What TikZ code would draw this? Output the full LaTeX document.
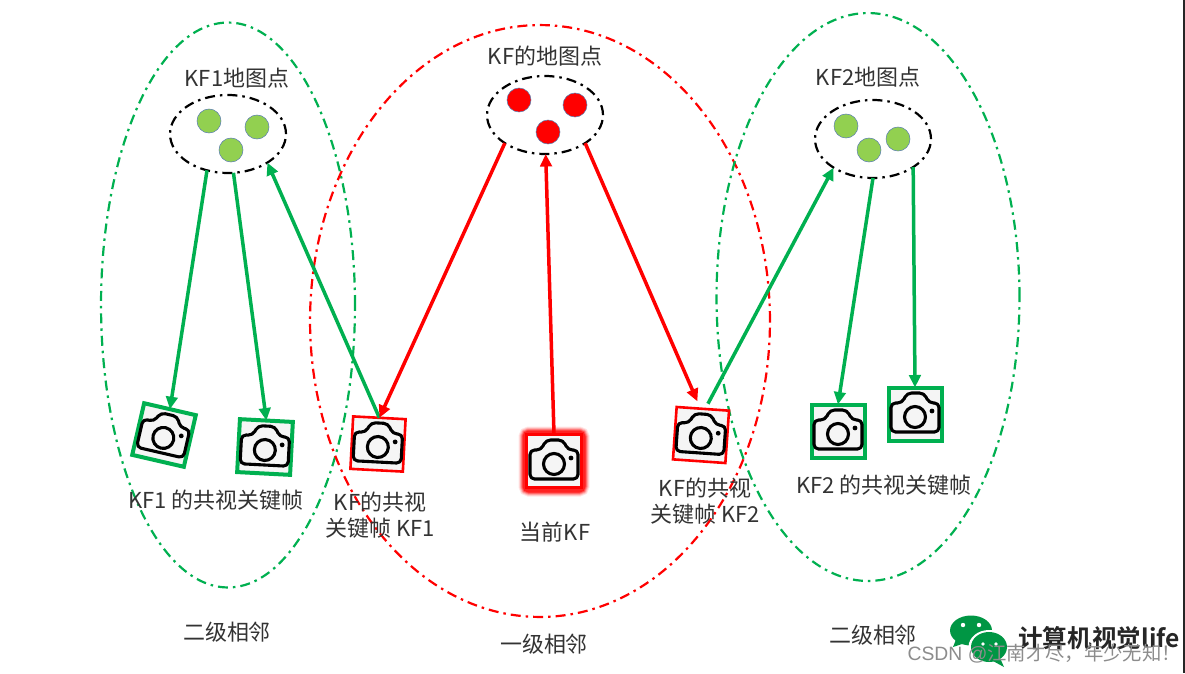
\documentclass[tikz,border=0pt]{standalone}
\usepackage{fontspec}
\setmainfont{Noto Sans CJK SC}[BoldFont={Noto Sans CJK SC Bold}]
\setsansfont{Liberation Sans}
\usetikzlibrary{shapes.geometric,arrows.meta}
\definecolor{kgreen}{HTML}{00B050}
\definecolor{kdot}{HTML}{92D050}
\definecolor{kedge}{HTML}{5B7FB0}
\definecolor{ktext}{HTML}{333333}
\definecolor{kgray}{HTML}{F5F5F5}
\tikzset{
  ddash/.style={line width=0.044cm,dash pattern=on 0.2cm off 0.1cm on 0.05cm off 0.1cm},
  bigring/.style={ellipse,draw,ddash,inner sep=0pt,outer sep=0pt},
  smallring/.style={ellipse,draw=black,ddash,inner sep=0pt,outer sep=0pt,minimum width=2.32cm,minimum height=1.56cm},
  gdot/.style={circle,draw=kedge,line width=0.3pt,fill=kdot,minimum size=0.48cm,inner sep=0pt},
  rdot/.style={circle,draw=kedge,line width=0.3pt,fill=red,minimum size=0.48cm,inner sep=0pt},
  cambox/.style={rectangle,fill=kgray,inner sep=0pt,outer sep=0pt},
  gbox/.style={cambox,draw=kgreen,line width=0.08cm,minimum size=1.06cm},
  rbox/.style={cambox,draw=red,line width=0.052cm,minimum size=1.05cm},
  lab/.style={text=ktext,font=\fontsize{12.5pt}{15pt}\selectfont,align=center,inner sep=0pt},
  conn/.style={line width=0.07cm,-{Triangle[length=0.25cm,width=0.23cm]}},
  gconn/.style={conn,draw=kgreen,color=kgreen},
  rconn/.style={conn,draw=red,color=red},
}
\newcommand{\camicon}[2]{%
  \begin{scope}[shift={(#1)},rotate=#2]
    \draw[line width=0.062cm,line join=round,rounded corners=0.09cm]
      (-24,-11) -- (-13,-11) -- (-8,-21) -- (9,-21) -- (14,-11) -- (24,-11)
      -- (24,18) -- (-24,18) -- cycle;
    \draw[line width=0.062cm] (0,3) circle (10.5);
    \fill (17,-3) circle (2.4);
  \end{scope}}
\begin{document}
\begin{tikzpicture}[x=0.02cm,y=-0.02cm]
\useasboundingbox (0,0) rectangle (1185,673);
\fill[white] (0,0) rectangle (1185,673);
\fill[black!85] (1183,0) rectangle (1185,673);
% large neighbourhood rings
\node[bigring,draw=kgreen,minimum width=5.08cm,minimum height=11.3cm] (ringL) at (228,305) {};
\node[bigring,draw=red,minimum width=9.2cm,minimum height=11.84cm] (ringM) at (540,321) {};
\node[bigring,draw=kgreen,minimum width=6.06cm,minimum height=11.36cm] (ringR) at (868,297) {};
% map point groups
\node[smallring] (e1) at (228,134) {};
\node[smallring] (e2) at (545,115) {};
\node[smallring] (e3) at (873,139) {};
\node[gdot] (g1) at (209,121) {};
\node[gdot] (g2) at (257,127) {};
\node[gdot] (g3) at (231,150) {};
\node[rdot] (r1) at (519,100) {};
\node[rdot] (r2) at (575,105) {};
\node[rdot] (r3) at (548,132) {};
\node[gdot] (g4) at (846,126) {};
\node[gdot] (g5) at (869,150) {};
\node[gdot] (g6) at (898,139) {};
% current KF glow
\foreach \w/\o in {0.30/0.10,0.26/0.16,0.22/0.25,0.18/0.4,0.14/0.6}{
  \draw[red,opacity=\o,line width=\w cm,rounded corners=0.06cm] (526,434) rectangle (582,489);
}
% cameras
\node[gbox,rotate=-13] (c1) at (164,435) {};
\node[gbox,rotate=-3] (c2) at (265,447) {};
\node[rbox,rotate=-3] (c3) at (378,444) {};
\node[cambox,draw=red,line width=0.06cm,minimum width=1.09cm,minimum height=1.07cm] (cur) at (554,461) {};
\node[rbox,rotate=-4] (c4) at (701,435) {};
\node[gbox] (c5) at (838,431) {};
\node[gbox] (c6) at (915,414) {};
\camicon{c1.center}{-13}
\camicon{c2.center}{-3}
\camicon{c3.center}{-3}
\camicon{cur.center}{0}
\camicon{c4.center}{-4}
\camicon{c5.center}{0}
\camicon{c6.center}{0}
% connectors
\draw[gconn] (e1.240) -- (c1.north);
\draw[gconn] (e1.278) -- (c2.north);
\draw[gconn] (c3.north) -- (e1.-36);
\draw[rconn] (e2.215) -- (c3.north);
\draw[rconn] (cur.north) -- (e2.271);
\draw[rconn,shorten >=0.16cm] (e2.-35) -- (c4.95);
\draw[gconn,shorten <=0.12cm] (c4.85) -- (e3.216);
\draw[gconn] (e3.270) -- (c5.north);
\draw[gconn] (e3.-35) -- (c6.north);
% labels
\node[lab] (t1) at (237,78) {KF1地图点};
\node[lab] (t2) at (545,56) {KF的地图点};
\node[lab] (t3) at (868,77) {KF2地图点};
\node[lab] (t4) at (216,500) {KF1 的共视关键帧};
\node[lab] (t5) at (380,515) {KF的共视\\关键帧 KF1};
\node[lab] (t6) at (555,532) {当前KF};
\node[lab] (t7) at (705,501) {KF的共视\\关键帧 KF2};
\node[lab] (t8) at (884,485) {KF2 的共视关键帧};
\node[lab] (t9) at (227,632) {二级相邻};
\node[lab] (t10) at (544,644) {一级相邻};
\node[lab] (t11) at (873,635) {二级相邻};
% logo
\fill[kgreen!85!black] (971,630.5) ellipse (21 and 15);
\fill[kgreen!85!black] (953,647) -- (957,637) -- (965,643) -- cycle;
\fill[white] (963,625) circle (2.2) (979,625) circle (2.2);
\fill[white] (989,647) ellipse (20.5 and 17);
\fill[kgreen!85!black] (989,647) ellipse (18 and 15);
\fill[kgreen!85!black] (1000,658) -- (1004,667) -- (993,661) -- cycle;
\fill[white] (983,644) circle (1.9) (996,644) circle (1.9);
\node[inner sep=0pt,anchor=east,font=\fontsize{14pt}{16pt}\selectfont\bfseries,text=black!85] (logo) at (1180,638) {计算机视觉life};
\node[inner sep=0pt,anchor=east,font=\fontsize{11pt}{13pt}\selectfont,text=black!45] (mark) at (1181,654) {{\sffamily CSDN @}江南才尽，年少无知！};
\end{tikzpicture}
\end{document}
